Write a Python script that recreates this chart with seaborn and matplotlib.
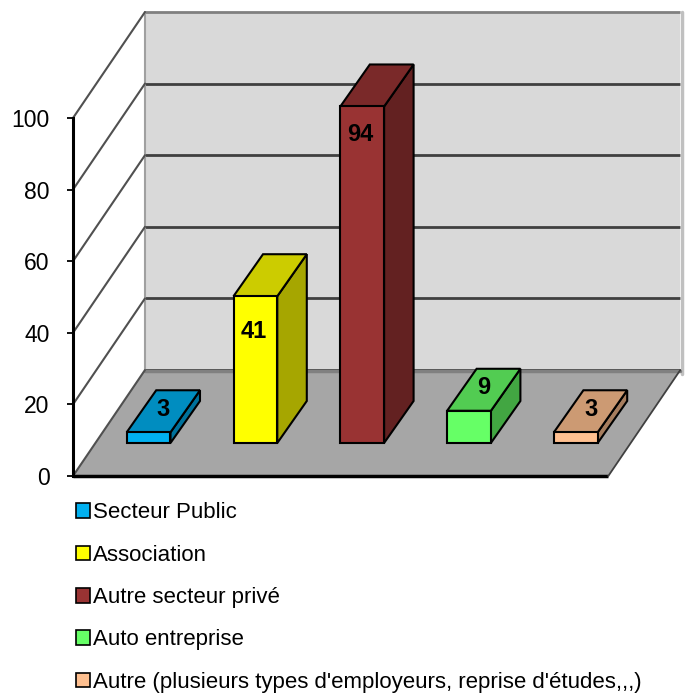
import matplotlib
matplotlib.use("Agg")
import matplotlib.pyplot as plt
import seaborn as sns
import pandas as pd
import numpy as np
from matplotlib.patches import Polygon, Patch

# ---- data ----
categories = ["Secteur Public", "Association", "Autre secteur privé",
              "Auto entreprise",
              "Autre (plusieurs types d'employeurs, reprise d'études,,,)"]
values = [3, 41, 94, 9, 3]
colors = ["#00b0f0", "#ffff00", "#993333", "#66ff66", "#ffc090"]
yticks = [0, 20, 40, 60, 80, 100]

sns.set_theme(style="white")
plt.rcParams["font.family"] = ["Liberation Sans", "DejaVu Sans"]
plt.rcParams["text.color"] = "black"

W, H = 687, 693
fig = plt.figure(figsize=(W / 100, H / 100), dpi=100)
ax = fig.add_axes([0, 0, 1, 1])

# pixel -> data mapping
X0, XS = 148.6, 106.8      # px of category 0, px per category
Y0, YS = 476.0, 3.58       # px of value 0, px per unit

# 3D geometry (data units)
floor_l, floor_r = (73 - X0) / XS, (608.3 - X0) / XS
fdx, fdy = 72 / XS, 106 / YS          # floor depth vector
bdx, bdy = 29.5 / XS, 42 / YS         # bar depth vector
base = (Y0 - 443) / YS                # bar baseline (front)

# back wall
wall_l, wall_r = floor_l + fdx, floor_r + fdx
ax.add_patch(Polygon([(wall_l, fdy), (wall_r, fdy), (wall_r, fdy + 100), (wall_l, fdy + 100)],
                     closed=True, facecolor="#d9d9d9", edgecolor="none", zorder=0))
for t in yticks:
    col = "#808080" if t == 100 else "#404040"
    ax.plot([wall_l, wall_r], [fdy + t, fdy + t], color=col, lw=2, zorder=1,
            solid_capstyle="butt")
ax.plot([wall_l, wall_l], [fdy, fdy + 100], color="#a0a0a0", lw=1.5, zorder=1)
ax.plot([wall_r + 0.012, wall_r + 0.012], [fdy - 1, fdy + 100], color="#c0c0c0", lw=2.5, zorder=1)

# floor
ax.add_patch(Polygon([(floor_l, 0), (floor_r, 0), (floor_r + fdx, fdy), (floor_l + fdx, fdy)],
                     closed=True, facecolor="#a6a6a6", edgecolor="none", zorder=1.5))
ax.plot([floor_l + fdx, floor_r + fdx], [fdy - 0.4, fdy - 0.4], color="#808080", lw=2.5, zorder=1.6)
ax.plot([floor_l, floor_r], [0, 0], color="black", lw=2.5, zorder=1.7, solid_capstyle="butt")
ax.plot([floor_r, floor_r + fdx], [0, fdy], color="#404040", lw=1.3, zorder=1.7)

# side wall diagonals
for t in yticks:
    ax.plot([floor_l, floor_l + fdx], [t, t + fdy], color="#505050", lw=1.5, zorder=1.8)

# bars (front faces)
df = pd.DataFrame({"cat": categories, "val": values})
sns.barplot(data=df, x="cat", y="val", hue="cat", palette=colors, order=categories,
            hue_order=categories, width=0.41, bottom=base, edgecolor="black",
            linewidth=1.5, legend=False, saturation=1, ax=ax, zorder=3)


def shade(c, f):
    r, g, b = matplotlib.colors.to_rgb(c)
    return (r * f, g * f, b * f)


bars = [p for p in ax.patches if isinstance(p, matplotlib.patches.Rectangle)][-len(values):]
for p, v in zip(bars, values):
    x, w = p.get_x(), p.get_width()
    y0, h = p.get_y(), p.get_height()
    y1 = y0 + h
    fc = p.get_facecolor()
    top = Polygon([(x, y1), (x + w, y1), (x + w + bdx, y1 + bdy), (x + bdx, y1 + bdy)],
                  closed=True, facecolor=shade(fc, 0.8), edgecolor="black", lw=1.5, zorder=2.9)
    side = Polygon([(x + w, y0), (x + w, y1), (x + w + bdx, y1 + bdy), (x + w + bdx, y0 + bdy)],
                   closed=True, facecolor=shade(fc, 0.65), edgecolor="black", lw=1.5, zorder=2.9)
    ax.add_patch(side)
    ax.add_patch(top)
    cx = x + w / 2
    if v >= 20:
        ty = y1 - (11.5 - 0.04 * v)
        tx = cx - 0.02
    else:
        ty = y1 + bdy / 2 + 0.6
        tx = cx + bdx / 2
    ax.text(tx, ty, str(v), ha="center", va="center", fontsize=17,
            fontweight="bold", color="black", zorder=5)

# limits mapped to pixels
ax.set_xlim((0 - X0) / XS, (W - X0) / XS)
ax.set_ylim((Y0 - H) / YS, Y0 / YS)

# y axis
for s in ["top", "right", "bottom"]:
    ax.spines[s].set_visible(False)
ax.spines["left"].set_position(("data", floor_l))
ax.spines["left"].set_bounds(0, 100)
ax.spines["left"].set_linewidth(2.2)
ax.spines["left"].set_color("black")
ax.spines["left"].set_zorder(4)
ax.set_yticks(yticks)
ax.set_yticklabels([str(t) for t in yticks])
ax.tick_params(axis="y", direction="out", length=4.3, width=1.3, pad=12.5,
               labelsize=16.5, colors="black", left=True)
ax.set_xticks([])
ax.set_xlabel("")
ax.set_ylabel("")
ax.patch.set_visible(False)

handles = [Patch(facecolor=c, edgecolor="black", lw=1.2) for c in colors]
fig.legend(handles, categories, loc="upper left", bbox_to_anchor=(76 / W, 1 - 502.5 / H),
           frameon=False, fontsize=16, handlelength=0.63, handleheight=0.63,
           handletextpad=0.12, labelspacing=0.96, borderpad=0, borderaxespad=0,
           labelcolor="black")

fig.savefig("out.png", dpi=100)
